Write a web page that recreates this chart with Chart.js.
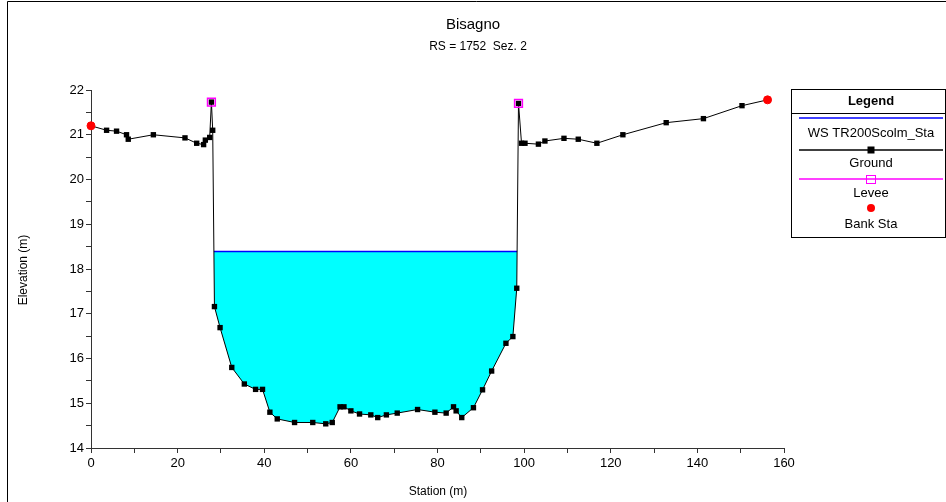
<!DOCTYPE html>
<html>
<head>
  <title>Bisagno RS 1752</title>
  <script src="https://cdn.jsdelivr.net/npm/chart.js"></script>
  <style>
    html, body { margin: 0; padding: 0; background: #fff; }
    #wrap { width: 946px; height: 502px; position: relative; }
  </style>
</head>
<body>
  <div id="wrap"><canvas id="xsChart" width="946" height="502"></canvas></div>

  <script>
    // ground profile (station m, elevation m)
    const groundSta = [0, 3.6, 5.9, 8.2, 8.6, 14.4, 21.7, 24.4, 26.0, 26.4, 27.4, 27.8, 28.1, 28.5, 29.8,
      32.5, 35.4, 38.0, 39.6, 41.3, 43.0, 47.0, 51.2, 54.2, 55.7, 57.5, 58.4, 60.0, 62.0, 64.6, 66.2,
      68.2, 70.7, 75.4, 79.4, 82.0, 83.7, 84.3, 85.6, 88.3, 90.4, 92.5, 95.8, 97.4, 98.3, 98.7, 99.4,
      100.2, 103.3, 104.8, 109.2, 112.5, 116.8, 122.8, 132.8, 141.4, 150.3, 156.2];
    const groundElev = [21.2, 21.1, 21.08, 21.0, 20.9, 21.0, 20.93, 20.81, 20.78, 20.88, 20.94, 21.73, 21.1, 17.16, 16.69,
      15.80, 15.43, 15.31, 15.31, 14.80, 14.65, 14.57, 14.57, 14.54, 14.57, 14.92, 14.92, 14.83, 14.76, 14.74, 14.68,
      14.74, 14.78, 14.86, 14.80, 14.78, 14.92, 14.83, 14.68, 14.90, 15.30, 15.72, 16.34, 16.49, 17.57, 21.70, 20.81,
      20.81, 20.79, 20.86, 20.92, 20.90, 20.81, 21.0, 21.27, 21.36, 21.65, 21.78];

    const wsElev = 18.39;
    const wsSta = [28.38, 98.38];

    const leveeSta = [27.8, 98.7];
    const leveeElev = [21.73, 21.70];

    const bankSta = [0, 156.2];
    const bankElev = [21.2, 21.78];

    const xTicks = [0, 20, 40, 60, 80, 100, 120, 140, 160];
    const yTicks = [14, 15, 16, 17, 18, 19, 20, 21, 22];

    const ground = groundSta.map((s, i) => ({ x: s, y: groundElev[i] }));
    const wsLine = wsSta.map(s => ({ x: s, y: wsElev }));
    const water = [wsLine[0]]
      .concat(ground.filter(p => p.x > wsSta[0] && p.x < wsSta[1]))
      .concat([wsLine[1]]);
    const levee = leveeSta.map((s, i) => ({ x: s, y: leveeElev[i] }));
    const bank = bankSta.map((s, i) => ({ x: s, y: bankElev[i] }));

    const FONT = 'Arial, "Liberation Sans", sans-serif';

    const extras = {
      id: 'extras',
      afterDraw(chart) {
        const c = chart.ctx;
        c.save();
        // outer frame (top and left only)
        c.strokeStyle = '#000';
        c.lineWidth = 1;
        c.beginPath();
        c.moveTo(7.5, 502); c.lineTo(7.5, 1.5); c.lineTo(946, 1.5);
        c.stroke();

        c.fillStyle = '#000';
        c.textAlign = 'center';
        c.textBaseline = 'middle';
        c.font = '15px ' + FONT;
        c.fillText('Bisagno', 473, 25);
        c.font = '12px ' + FONT;
        c.fillText('RS = 1752  Sez. 2', 478, 47);

        c.fillText('Station (m)', 438, 492);
        c.save();
        c.translate(24, 270);
        c.rotate(-Math.PI / 2);
        c.fillText('Elevation (m)', 0, 0);
        c.restore();

        // legend box
        const L = 791.5, T = 89.5, R = 945.5, B = 237.5, cx = 871;
        c.strokeStyle = '#000';
        c.strokeRect(L, T, R - L, B - T);
        c.beginPath(); c.moveTo(L, 113.5); c.lineTo(R, 113.5); c.stroke();
        c.font = 'bold 13px ' + FONT;
        c.fillText('Legend', cx, 101);
        c.font = '13px ' + FONT;

        const x0 = 799, x1 = 943;
        c.lineWidth = 1.5;
        c.strokeStyle = '#0000ff';
        c.beginPath(); c.moveTo(x0, 118); c.lineTo(x1, 118); c.stroke();
        c.fillText('WS TR200Scolm_Sta', cx, 133);

        c.strokeStyle = '#000';
        c.beginPath(); c.moveTo(x0, 150); c.lineTo(x1, 150); c.stroke();
        c.fillRect(cx - 3.5, 146.5, 7, 7);
        c.fillText('Ground', cx, 163);

        c.strokeStyle = '#ff00ff';
        c.beginPath(); c.moveTo(x0, 179); c.lineTo(x1, 179); c.stroke();
        c.lineWidth = 1;
        c.strokeRect(cx - 4.5, 175.5, 9, 8);
        c.fillText('Levee', cx, 193);

        c.fillStyle = '#ff0000';
        c.beginPath(); c.arc(cx, 208, 4, 0, Math.PI * 2); c.fill();
        c.fillStyle = '#000';
        c.fillText('Bank Sta', cx, 224);
        c.restore();
      }
    };

    const axisCommon = {
      type: 'linear',
      border: { display: true, color: '#333', width: 1 },
      grid: { drawOnChartArea: false, drawTicks: true, tickLength: 5, color: '#333' },
    };

    const chart = new Chart(document.getElementById('xsChart'), {
      type: 'scatter',
      data: {
        datasets: [
          {
            label: 'water', data: water, showLine: true, pointRadius: 0, borderWidth: 1,
            borderColor: 'rgba(0,0,0,0)', backgroundColor: '#00ffff',
            fill: { value: wsElev }, order: 5, clip: false
          },
          {
            label: 'WS TR200Scolm_Sta', data: wsLine, showLine: true, pointRadius: 0,
            borderColor: '#0000ff', borderWidth: 1.5, order: 4, clip: false
          },
          {
            label: 'Ground', data: ground, showLine: true, borderColor: '#000', borderWidth: 1,
            pointStyle: 'rect', pointRadius: 3.8, pointBackgroundColor: '#000', pointBorderColor: '#000',
            pointBorderWidth: 0, order: 3, clip: false
          },
          {
            label: 'Levee', data: levee, showLine: false, pointStyle: 'rect', pointRadius: 5.5,
            pointBackgroundColor: 'rgba(0,0,0,0)', pointBorderColor: '#ff00ff', pointBorderWidth: 1.5,
            order: 2, clip: false
          },
          {
            label: 'Bank Sta', data: bank, showLine: false, pointStyle: 'circle', pointRadius: 4,
            pointBackgroundColor: '#ff0000', pointBorderColor: '#ff0000', order: 1, clip: false
          }
        ]
      },
      options: {
        responsive: false,
        animation: false,
        layout: { padding: { left: 0, right: 162, top: 90, bottom: 0 } },
        plugins: { legend: { display: false }, title: { display: false }, tooltip: { enabled: false } },
        elements: { line: { tension: 0 } },
        scales: {
          x: Object.assign({}, axisCommon, {
            min: 0, max: 160,
            afterFit(s) { s.height = 54; },
            ticks: {
              stepSize: 10, autoSkip: false, maxRotation: 0, padding: 3, color: '#000',
              font: { family: FONT, size: 13 },
              callback: v => (xTicks.includes(v) ? String(v) : '')
            }
          }),
          y: Object.assign({}, axisCommon, {
            min: 14, max: 22,
            afterFit(s) { s.width = 91; },
            ticks: {
              stepSize: 0.5, autoSkip: false, padding: 2, color: '#000',
              font: { family: FONT, size: 13 },
              callback: v => (yTicks.includes(v) ? String(v) : '')
            }
          })
        }
      },
      plugins: [extras]
    });
  </script>
</body>
</html>
